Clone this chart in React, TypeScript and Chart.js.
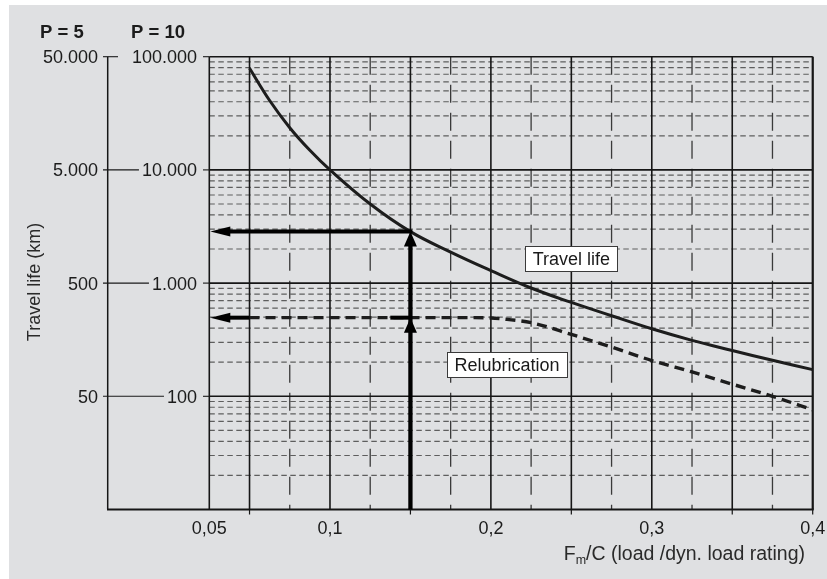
import { useEffect, useRef } from "react";
import { Chart, registerables } from "chart.js";

Chart.register(...registerables);

// ---- data ----
const travelLifeX = [0.05, 0.0625, 0.075, 0.0875, 0.1, 0.125, 0.15, 0.175, 0.2, 0.225, 0.25, 0.275, 0.3, 0.325, 0.35, 0.375, 0.4];
const travelLifeKm = [79000, 41000, 23600, 14900, 10000, 5000, 2850, 1880, 1290, 905, 675, 515, 395, 312, 254, 208, 172];

const relubX = [0.05, 0.1, 0.15, 0.19, 0.2, 0.21, 0.225, 0.25, 0.275, 0.3, 0.325, 0.35, 0.375, 0.4];
const relubKm = [495, 495, 495, 495, 492, 478, 447, 352, 272, 207, 164, 128, 100, 76];

const yMajor = [100, 1000, 10000, 100000];
const yLabelsP10 = ["100", "1.000", "10.000", "100.000"];
const yLabelsP5 = ["50", "500", "5.000", "50.000"];
const yDecades = [10, 100, 1000, 10000];
const yMinorMultipliers = [2, 3, 4, 5, 6, 7, 8, 9];

const xMajorGrid = [0.025, 0.05, 0.1, 0.15, 0.2, 0.25, 0.3, 0.35, 0.4];
const xMinorGrid = [0.075, 0.125, 0.175, 0.225, 0.275, 0.325, 0.375];
const xTickValues = [0.025, 0.1, 0.2, 0.3, 0.4];
const xTickLabels = ["0,05", "0,1", "0,2", "0,3", "0,4"];
const xTickMarks = [0.05, 0.15, 0.25, 0.35, 0.4];

const arrowX = 0.15;
const arrowTravelLife = 2850;
const arrowRelubrication = 495;
const relubArrowStart = 0.05;
const relubArrowStub = 0.1375;

const travelLabel = { text: "Travel life", x: 0.25, y: 1650 };
const relubLabel = { text: "Relubrication", x: 0.21, y: 191 };

const FONT = '"Liberation Sans", Arial, Helvetica, sans-serif';
const BG = "#dfe0e2";

function seg(ctx: CanvasRenderingContext2D, x1: number, y1: number, x2: number, y2: number) {
  ctx.beginPath();
  ctx.moveTo(x1, y1);
  ctx.lineTo(x2, y2);
  ctx.stroke();
}

const customPlugin = {
  id: "customDraw",
  beforeDraw(chart: any) {
    const ctx = chart.ctx as CanvasRenderingContext2D;
    ctx.save();
    ctx.fillStyle = "#ffffff";
    ctx.fillRect(0, 0, chart.width, chart.height);
    ctx.fillStyle = BG;
    ctx.fillRect(9, 5, chart.width - 9, chart.height - 5);
    ctx.restore();
  },
  beforeDatasetsDraw(chart: any) {
    const ctx = chart.ctx as CanvasRenderingContext2D;
    const a = chart.chartArea;
    const x = chart.scales.x;
    const y = chart.scales.y;
    ctx.save();
    // minor horizontal dashed
    ctx.strokeStyle = "#5e5e5e";
    ctx.lineWidth = 1.2;
    ctx.setLineDash([5.5, 3.5]);
    for (const d of yDecades) {
      for (const m of yMinorMultipliers) {
        const py = y.getPixelForValue(d * m);
        seg(ctx, a.left, py, a.right, py);
      }
    }
    // minor vertical dashed
    ctx.strokeStyle = "#3a3a3a";
    ctx.lineWidth = 1.3;
    ctx.setLineDash([18, 10]);
    for (const v of xMinorGrid) {
      const px = x.getPixelForValue(v);
      seg(ctx, px, a.top, px, a.bottom);
    }
    ctx.setLineDash([]);
    // major lines
    ctx.strokeStyle = "#161616";
    ctx.lineWidth = 1.6;
    for (const v of yMajor) {
      const py = y.getPixelForValue(v);
      seg(ctx, a.left, py, a.right, py);
    }
    for (const v of xMajorGrid) {
      const px = x.getPixelForValue(v);
      seg(ctx, px, a.top, px, a.bottom);
    }
    ctx.lineWidth = 2;
    seg(ctx, a.right, a.top, a.right, a.bottom);
    // bottom axis line extended to the P=5 axis
    ctx.lineWidth = 1.8;
    seg(ctx, 107, a.bottom, a.right + 1, a.bottom);
    // small ticks under axis
    ctx.lineWidth = 1.2;
    for (const v of xTickMarks) {
      const px = x.getPixelForValue(v);
      seg(ctx, px, a.bottom, px, a.bottom + 5);
    }
    ctx.restore();
  },
  afterDatasetsDraw(chart: any) {
    const ctx = chart.ctx as CanvasRenderingContext2D;
    const a = chart.chartArea;
    const x = chart.scales.x;
    const y = chart.scales.y;
    ctx.save();

    // ---- arrows ----
    const ax = x.getPixelForValue(arrowX);
    const yT = y.getPixelForValue(arrowTravelLife);
    const yR = y.getPixelForValue(arrowRelubrication);
    ctx.strokeStyle = "#000";
    ctx.fillStyle = "#000";
    ctx.lineCap = "butt";
    ctx.lineWidth = 4.3;
    seg(ctx, ax, a.bottom, ax, yT + 12);
    ctx.lineWidth = 4;
    seg(ctx, ax + 2, yT, a.left + 18, yT);
    seg(ctx, x.getPixelForValue(relubArrowStart), yR, a.left + 18, yR);
    seg(ctx, x.getPixelForValue(relubArrowStub), yR, ax, yR);
    const upHead = (tx: number, ty: number) => {
      ctx.beginPath();
      ctx.moveTo(tx, ty);
      ctx.lineTo(tx + 6.5, ty + 15);
      ctx.lineTo(tx - 6.5, ty + 15);
      ctx.closePath();
      ctx.fill();
    };
    const leftHead = (tx: number, ty: number) => {
      ctx.beginPath();
      ctx.moveTo(tx, ty);
      ctx.lineTo(tx + 20, ty - 5);
      ctx.lineTo(tx + 20, ty + 5);
      ctx.closePath();
      ctx.fill();
    };
    upHead(ax, yT);
    upHead(ax, yR);
    leftHead(a.left + 1, yT);
    leftHead(a.left + 1, yR);

    // ---- label boxes ----
    ctx.font = `18px ${FONT}`;
    ctx.textBaseline = "alphabetic";
    ctx.textAlign = "center";
    for (const lab of [travelLabel, relubLabel]) {
      const cx = x.getPixelForValue(lab.x);
      const cy = y.getPixelForValue(lab.y);
      const w = ctx.measureText(lab.text).width + 15;
      const h = 25;
      ctx.fillStyle = "#ffffff";
      ctx.fillRect(cx - w / 2, cy - h / 2, w, h);
      ctx.strokeStyle = "#3a3a3a";
      ctx.lineWidth = 1;
      ctx.strokeRect(Math.round(cx - w / 2) + 0.5, Math.round(cy - h / 2) + 0.5, Math.round(w), h);
      ctx.fillStyle = "#1a1a1a";
      ctx.fillText(lab.text, cx, cy + 6.5);
    }
    ctx.restore();
  },
  afterDraw(chart: any) {
    const ctx = chart.ctx as CanvasRenderingContext2D;
    const a = chart.chartArea;
    const x = chart.scales.x;
    const y = chart.scales.y;
    ctx.save();
    const txt = "#1c1c1c";

    // P headers
    ctx.fillStyle = txt;
    ctx.font = `bold 18.5px ${FONT}`;
    ctx.textAlign = "left";
    ctx.textBaseline = "alphabetic";
    ctx.fillText("P = 5", 40, 37.5);
    ctx.fillText("P = 10", 131, 37.5);

    // P=5 vertical axis
    ctx.strokeStyle = "#161616";
    ctx.lineWidth = 1.5;
    seg(ctx, 107.7, a.top, 107.7, a.bottom);

    // y labels & connectors
    ctx.font = `18px ${FONT}`;
    ctx.textAlign = "right";
    yMajor.forEach((v, i) => {
      const py = y.getPixelForValue(v);
      ctx.fillStyle = txt;
      ctx.fillText(yLabelsP5[i], 98, py + 6.5);
      ctx.fillText(yLabelsP10[i], 197, py + 6.5);
      const w10 = ctx.measureText(yLabelsP10[i]).width;
      ctx.strokeStyle = "#1a1a1a";
      ctx.lineWidth = 1.1;
      const endX = i === yMajor.length - 1 ? 118 : 197 - w10 - 3;
      seg(ctx, 103, py, endX, py);
      seg(ctx, 203, py, a.left, py);
    });

    // y title
    ctx.save();
    ctx.translate(35, 282);
    ctx.rotate(-Math.PI / 2);
    ctx.textAlign = "center";
    ctx.textBaseline = "middle";
    ctx.fillStyle = "#2a2a2a";
    ctx.font = `18px ${FONT}`;
    ctx.fillText("Travel life (km)", 0, 0);
    ctx.restore();

    // x tick labels
    ctx.font = `18px ${FONT}`;
    ctx.textAlign = "center";
    ctx.fillStyle = txt;
    xTickValues.forEach((v, i) => {
      ctx.fillText(xTickLabels[i], x.getPixelForValue(v), 533.5);
    });

    // x title with subscript
    const part1 = "F";
    const sub = "m";
    const part2 = "/C (load /dyn. load rating)";
    ctx.textAlign = "left";
    ctx.fillStyle = "#2a2a2a";
    const big = `19.5px ${FONT}`;
    const small = `12.5px ${FONT}`;
    ctx.font = big;
    const w1 = ctx.measureText(part1).width;
    const w3 = ctx.measureText(part2).width;
    ctx.font = small;
    const w2 = ctx.measureText(sub).width;
    const right = 805;
    const start = right - (w1 + w2 + w3);
    ctx.font = big;
    ctx.fillText(part1, start, 560);
    ctx.font = small;
    ctx.fillText(sub, start + w1, 564);
    ctx.font = big;
    ctx.fillText(part2, start + w1 + w2, 560);

    ctx.restore();
  },
};

export default function App() {
  const ref = useRef<HTMLCanvasElement>(null);
  useEffect(() => {
    document.body.style.margin = "0";
    const canvas = ref.current!;
    const chart = new Chart(canvas, {
      type: "line",
      data: {
        datasets: [
          {
            label: "Travel life",
            data: travelLifeX.map((v, i) => ({ x: v, y: travelLifeKm[i] })),
            borderColor: "#1d1d1d",
            borderWidth: 3,
            pointRadius: 0,
            tension: 0.4,
            fill: false,
          },
          {
            label: "Relubrication",
            data: relubX.map((v, i) => ({ x: v, y: relubKm[i] })),
            borderColor: "#1d1d1d",
            borderWidth: 3.4,
            borderDash: [10, 6],
            pointRadius: 0,
            cubicInterpolationMode: "monotone",
            fill: false,
          },
        ],
      },
      options: {
        responsive: false,
        animation: false,
        devicePixelRatio: 1,
        events: [],
        layout: { padding: { left: 209.3, right: 14.3, top: 56.7, bottom: 69.5 } },
        plugins: { legend: { display: false }, tooltip: { enabled: false }, title: { display: false } },
        scales: {
          x: { type: "linear", min: 0.025, max: 0.4, display: false },
          y: { type: "logarithmic", min: 10, max: 100000, display: false },
        },
      },
      plugins: [customPlugin],
    } as any);
    return () => chart.destroy();
  }, []);
  return (
    <div style={{ position: "fixed", left: 0, top: 0, width: 827, height: 579 }}>
      <canvas ref={ref} width={827} height={579} style={{ display: "block", width: "827px", height: "579px" }} />
    </div>
  );
}
